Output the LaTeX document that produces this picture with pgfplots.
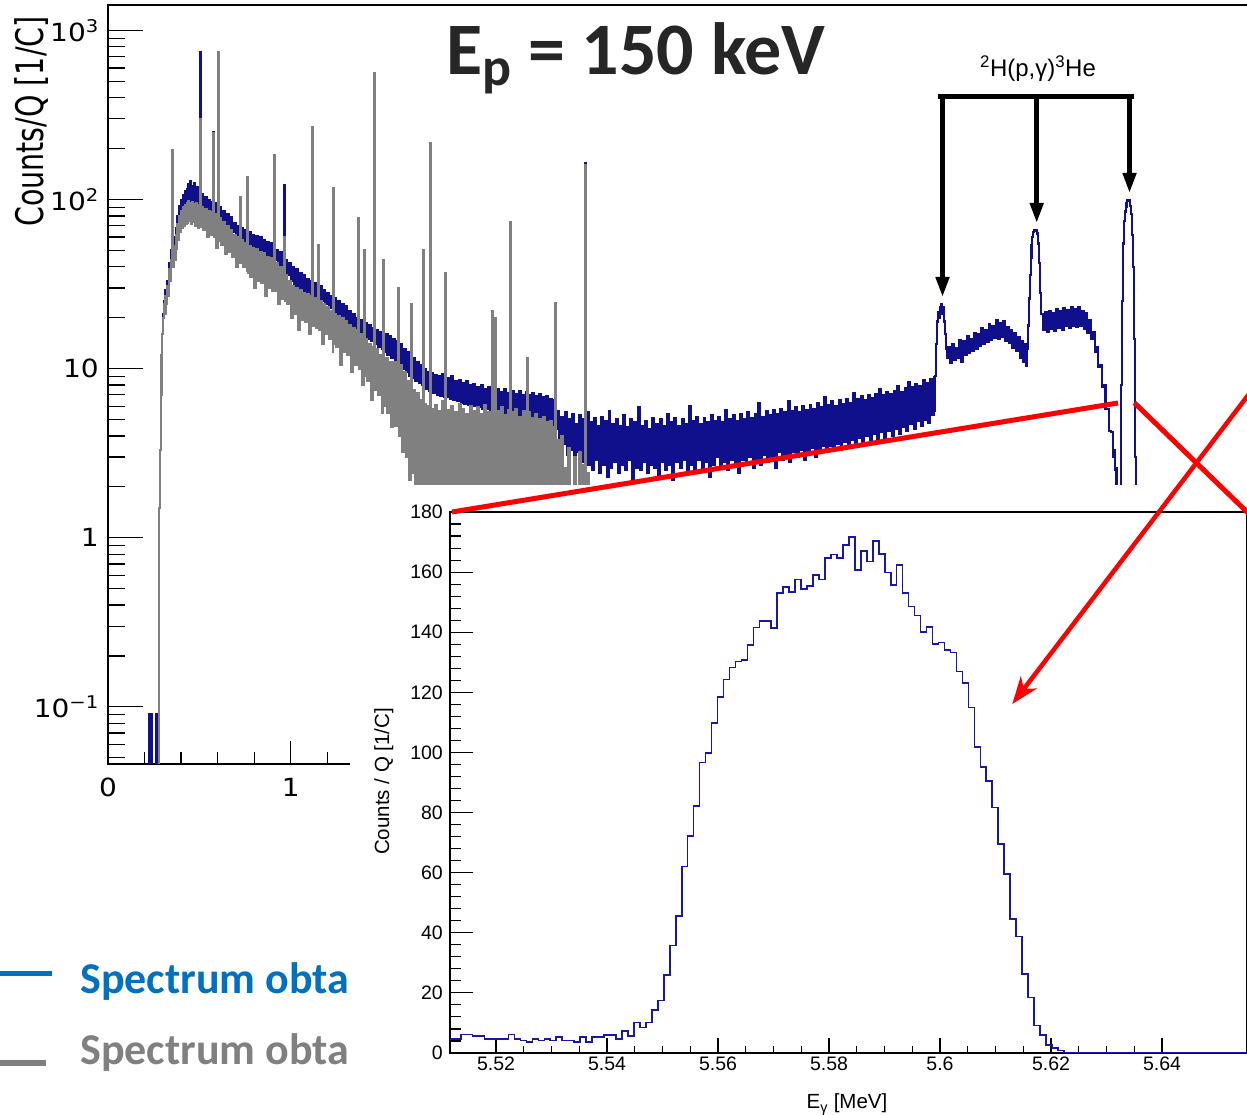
\documentclass[border=0pt]{standalone}
\usepackage{fontspec}
\setmainfont{Liberation Sans}
\newfontfamily\axfont[FakeStretch=1.12]{DejaVu Sans}
\newfontfamily\axlabfont[FakeStretch=0.75]{DejaVu Sans}
\newfontfamily\calibrifont{Carlito}
\usepackage{pgfplots}
\pgfplotsset{compat=1.18}
\usetikzlibrary{arrows.meta}

\definecolor{histblue}{RGB}{16,16,140}
\definecolor{histgray}{RGB}{128,128,128}
\definecolor{insetblue}{RGB}{24,24,165}
\definecolor{legblue}{RGB}{0,112,192}
\definecolor{leggray}{RGB}{128,128,128}
\definecolor{titlegray}{RGB}{38,38,38}

\begin{document}
\begin{tikzpicture}
\path[use as bounding box] (0pt,0pt) rectangle (1247pt,1115pt);
\clip (0pt,0pt) rectangle (1247pt,1115pt);

% ---------------- full spectrum, log scale ----------------
\begin{axis}[
  at={(108pt,351pt)}, anchor=south west,
  scale only axis, width=1187.55pt, height=759pt,
  xmin=0, xmax=6.5,
  ymode=log, ymin=0.0459, ymax=1415,
  axis line style={line width=1.2pt, black},
  tick align=inside, tick pos=left,
  every tick/.style={black, line width=1.2pt},
  xtick={0,1,2,3,4,5,6}, xticklabels={0,1,2,3,4,5,6},
  minor x tick num=4,
  ytick={0.1,1,10,100,1000},
  yticklabels={10\textsuperscript{−1},1,10,10\textsuperscript{2},10\textsuperscript{3}},
  minor ytick={0.05,0.06,0.07,0.08,0.09,0.2,0.3,0.4,0.5,0.6,0.7,0.8,0.9,2,3,4,5,6,7,8,9,20,30,40,50,60,70,80,90,200,300,400,500,600,700,800,900},
  xtick style={/pgfplots/major tick length=23pt, /pgfplots/minor tick length=12pt},
  ytick style={/pgfplots/major tick length=35pt, /pgfplots/minor tick length=17pt},
  xticklabel style={font=\axfont\fontsize{25}{25}\selectfont, anchor=north, inner sep=0pt, yshift=-14pt},
  yticklabel style={font=\axfont\fontsize{25}{25}\selectfont, anchor=east, inner sep=0pt, xshift=-9pt},
]
% beam on
\addplot[const plot, histblue, line width=2.1pt] coordinates {
(0.20,0.001)(0.224,0.09)(0.227,0.001)(0.238,0.09)(0.241,0.001)(0.262,0.09)(0.265,0.001)(0.272,0.09)(0.279,0.3)(0.281,1.5)(0.284,2.3)(0.287,3.3)(0.290,7)(0.293,12)(0.296,16)(0.300,21)(0.305,25)(0.310,23)(0.315,29)(0.320,27)(0.325,33)(0.330,31)(0.335,42)(0.340,38)(0.345,50)(0.350,196)(0.353,47)(0.360,60)(0.365,52)(0.370,68)(0.375,60)(0.380,80)(0.385,68)(0.390,92)(0.395,75)(0.400,100)(0.405,84)(0.410,106)(0.415,88)(0.420,112)(0.425,92)(0.430,116)(0.435,96)(0.440,124)(0.445,98)(0.450,128)(0.455,100)(0.460,121)(0.465,96)(0.470,126)(0.475,97)(0.480,115)(0.485,93)(0.490,118)(0.495,92)(0.500,111)(0.504,750)(0.508,95)
(0.51,108)(0.52,90)(0.53,104)(0.54,88)(0.55,100)(0.56,84)(0.57,97)(0.575,250)(0.579,82)(0.58,96)(0.59,80)(0.60,93)(0.602,750)(0.606,78)(0.61,90)(0.62,76)(0.63,86)(0.64,72)(0.65,82)(0.66,68)(0.67,79)(0.68,64)(0.69,73)(0.70,61)(0.71,70)(0.72,57)(0.722,103)(0.726,58)(0.73,68)(0.74,54)(0.75,66)(0.76,53)(0.761,136)(0.765,52)(0.77,64)(0.78,51)(0.79,62)(0.80,50)(0.81,61)(0.82,48)(0.83,60)(0.84,47)(0.85,58)(0.86,46)(0.87,56)(0.88,44)(0.89,55)(0.90,43)(0.909,184)(0.913,44)(0.92,50)(0.93,41)(0.94,49)(0.95,38)(0.96,47)(0.963,122)(0.967,37)(0.97,44)(0.98,36)(0.99,42)
(1.00,33)(1.01,40)(1.02,31)(1.03,39)(1.04,30)(1.05,37)(1.06,29)(1.07,36)(1.08,28)(1.09,34)(1.10,27)(1.11,33)(1.117,268)(1.121,27)(1.13,32)(1.14,26)(1.149,54)(1.153,25)(1.16,31)(1.17,25)(1.18,29)(1.19,24)(1.20,28)(1.21,23)(1.22,27)(1.23,22)(1.232,117)(1.236,22)(1.24,26)(1.25,21)(1.26,25)(1.27,20)(1.28,24)(1.29,19.5)(1.30,23.5)(1.31,18.5)(1.32,22)(1.33,18)(1.34,21)(1.35,17)(1.36,20)(1.368,78)(1.372,16.5)(1.38,19.5)(1.39,16)(1.40,19)(1.401,50)(1.405,15.5)(1.41,18.5)(1.42,15)(1.43,18)(1.44,14.5)(1.45,17.5)(1.456,561)(1.46,14)(1.47,17)(1.48,13.5)(1.49,16.5)
(1.50,13)(1.505,44)(1.509,12.5)(1.52,16)(1.53,12)(1.54,15.5)(1.55,11.5)(1.56,15)(1.57,11)(1.58,14.5)(1.587,30)(1.591,10.5)(1.60,14)(1.61,10)(1.62,13)(1.63,9.5)(1.64,12.5)(1.65,9)(1.658,24)(1.662,8.8)(1.67,11.5)(1.68,8.5)(1.69,11)(1.70,8.2)(1.71,10.5)(1.72,8)(1.724,50)(1.728,8)(1.73,10)(1.74,7.6)(1.75,9.6)(1.76,7.4)(1.762,216)(1.766,7.4)(1.77,9.4)(1.78,7.2)(1.79,9.2)(1.80,7)(1.81,9)(1.82,6.9)(1.83,9.3)(1.84,6.8)(1.845,37)(1.849,6.8)(1.86,8.8)(1.87,6.6)(1.88,9)(1.89,6.5)(1.90,8.5)(1.91,6.4)(1.92,8.6)(1.93,6.3)(1.94,8.2)(1.95,6.2)(1.96,8.4)(1.97,6.1)(1.98,8)(1.99,6)
(2.00,8.1)(2.01,6)(2.02,7.8)(2.03,5.9)(2.04,8)(2.05,5.8)(2.06,7.6)(2.07,5.8)(2.08,7.8)(2.09,5.7)(2.10,7.5)(2.102,22)(2.106,5.7)(2.118,20)(2.122,5.6)(2.13,7.6)(2.14,5.6)(2.15,7.3)(2.16,5.5)(2.17,7.6)(2.18,5.5)(2.19,7.2)(2.20,5.5)(2.203,74)(2.207,5.4)(2.21,7.4)(2.22,5.4)(2.23,7.1)(2.24,5.3)(2.25,7.4)(2.26,5.3)(2.27,7)(2.28,5.3)(2.29,7.3)(2.293,11.6)(2.297,5.2)(2.30,7)(2.31,5.2)(2.32,7.2)(2.33,5.1)(2.34,6.9)(2.35,5.1)(2.36,7.1)(2.37,5)(2.38,6.8)(2.39,5)(2.40,6.9)(2.41,4.8)(2.42,6.6)(2.43,4.6)(2.44,6.5)(2.447,24.5)(2.451,4.4)
(2.46,5.6)(2.47,3.4)(2.48,5.2)(2.49,3.6)(2.50,5.5)(2.51,3.1)(2.52,5.0)(2.53,3.3)(2.54,5.4)(2.55,2.9)(2.56,4.7)(2.57,3.2)(2.58,5.3)(2.59,2.8)(2.60,5.0)(2.61,2.6)(2.611,165)(2.615,2.9)(2.62,5.5)(2.63,2.7)(2.64,4.8)(2.65,2.5)(2.66,5.1)(2.67,2.9)(2.68,4.6)(2.69,2.4)(2.70,5.2)(2.71,2.7)(2.72,4.9)(2.73,2.3)(2.74,5.6)(2.75,2.6)(2.76,4.7)(2.77,2.8)(2.78,5.0)(2.79,2.4)(2.80,4.6)(2.81,2.7)(2.82,5.3)(2.83,2.5)(2.84,4.5)(2.85,2.9)(2.86,5.0)(2.87,2.2)(2.88,4.8)(2.89,2.6)(2.90,5.9)(2.91,2.5)(2.92,4.6)(2.93,2.8)(2.94,4.9)(2.95,2.4)(2.96,4.4)(2.97,2.7)(2.98,5.1)(2.99,2.6)
(3.00,4.7)(3.01,2.3)(3.02,5.0)(3.03,2.8)(3.04,4.6)(3.05,2.5)(3.06,5.4)(3.07,2.7)(3.08,4.8)(3.09,2.2)(3.10,5.1)(3.11,2.8)(3.12,4.6)(3.13,2.6)(3.14,5.0)(3.15,2.9)(3.16,4.7)(3.17,2.5)(3.18,6.0)(3.19,2.7)(3.20,4.9)(3.21,2.4)(3.22,5.2)(3.23,2.9)(3.24,4.7)(3.25,2.6)(3.26,5.1)(3.27,2.8)(3.28,4.8)(3.29,2.3)(3.30,5.3)(3.31,2.7)(3.32,4.9)(3.33,3.0)(3.34,5.2)(3.35,2.6)(3.36,4.8)(3.37,2.8)(3.38,5.7)(3.39,2.5)(3.40,5.0)(3.41,2.9)(3.42,5.3)(3.43,2.7)(3.44,4.9)(3.45,2.4)(3.46,5.4)(3.47,2.9)(3.48,5.0)(3.49,2.7)
(3.50,5.5)(3.51,3.0)(3.52,5.1)(3.53,2.6)(3.54,5.4)(3.55,2.9)(3.56,6.3)(3.57,2.7)(3.58,5.2)(3.59,3.1)(3.60,5.6)(3.61,2.8)(3.62,5.3)(3.63,3.0)(3.64,5.7)(3.65,2.6)(3.66,5.4)(3.67,3.2)(3.68,5.8)(3.69,2.9)(3.70,5.5)(3.71,3.1)(3.72,6.4)(3.73,2.8)(3.74,5.6)(3.75,3.2)(3.76,5.9)(3.77,3.0)(3.78,5.5)(3.79,3.3)(3.80,6.0)(3.81,2.9)(3.82,5.7)(3.83,3.2)(3.84,6.1)(3.85,3.4)(3.86,5.8)(3.87,3.0)(3.88,6.3)(3.89,3.3)(3.90,5.9)(3.91,3.5)(3.92,6.8)(3.93,3.2)(3.94,6.1)(3.95,3.5)(3.96,6.4)(3.97,3.3)(3.98,6.0)(3.99,3.6)
(4.00,6.5)(4.01,3.3)(4.02,6.2)(4.03,3.7)(4.04,6.6)(4.05,3.4)(4.06,6.3)(4.07,3.8)(4.08,7.2)(4.09,3.5)(4.10,6.6)(4.11,3.9)(4.12,6.9)(4.13,3.6)(4.14,6.5)(4.15,4.0)(4.16,7.0)(4.17,3.7)(4.18,6.7)(4.19,4.1)(4.20,7.1)(4.21,3.8)(4.22,7.6)(4.23,4.2)(4.24,7.0)(4.25,3.9)(4.26,7.3)(4.27,4.3)(4.28,7.1)(4.29,4.0)(4.30,7.4)(4.31,4.4)(4.32,7.9)(4.33,4.1)(4.34,7.3)(4.35,4.5)(4.36,7.7)(4.37,4.3)(4.38,8.3)(4.39,4.7)(4.40,7.8)(4.41,4.4)(4.42,8.1)(4.43,4.9)(4.44,7.9)(4.45,4.6)(4.46,8.6)(4.47,5.0)(4.48,8.2)(4.49,4.8)(4.50,8.7)(4.51,5.3)(4.52,8.9)(4.525,5.6)
(4.527,9)(4.532,14)(4.537,19)(4.542,21.5)(4.547,20)(4.552,23)(4.557,22)(4.562,24)(4.567,21)(4.572,23)(4.577,19)(4.582,16)(4.587,13)(4.592,11.5)
(4.60,13.5)(4.61,10.8)(4.62,14.0)(4.63,11.2)(4.64,13.2)(4.65,11.6)(4.66,14.8)(4.67,11.0)(4.68,14.5)(4.69,12.0)(4.70,15.5)(4.71,12.3)(4.72,15.0)(4.73,12.8)(4.74,16.2)(4.75,13.0)(4.76,16.0)(4.77,13.6)(4.78,17.5)(4.79,14.0)(4.80,17.0)(4.81,14.4)(4.82,18.3)(4.83,14.8)(4.84,17.8)(4.85,15.2)(4.86,19.5)(4.87,15.0)(4.88,18.6)(4.89,15.5)(4.90,19.0)(4.91,14.6)(4.92,17.6)(4.93,14.2)(4.94,17.0)(4.95,13.2)(4.96,16.2)(4.97,12.8)(4.98,15.3)(4.99,11.5)(5.00,14.6)(5.01,11.0)(5.02,14.0)(5.025,10.4)
(5.03,13)(5.035,18)(5.04,26)(5.045,36)(5.05,45)(5.055,54)(5.06,60)(5.065,64)(5.07,66)(5.075,65)(5.08,66)(5.085,63)(5.09,55)(5.095,42)(5.10,28)(5.105,21)
(5.11,21)(5.12,17)(5.13,21.5)(5.14,16.4)(5.15,22)(5.16,17.2)(5.17,21.2)(5.18,16.8)(5.19,22.5)(5.20,17.5)(5.21,21.8)(5.22,17.0)(5.23,22.8)(5.24,17.8)(5.25,22.2)(5.26,17.4)(5.27,23.2)(5.28,18.0)(5.29,22.6)(5.30,17.6)(5.31,23.0)(5.32,17.9)(5.33,22.0)(5.34,17.2)(5.35,21.2)(5.36,16.2)(5.37,19.5)(5.38,15.0)(5.39,16.5)(5.40,12.5)(5.41,13.5)(5.42,10.2)(5.43,10.5)(5.44,7.8)(5.45,8.0)(5.46,5.8)(5.47,5.8)(5.48,4.3)(5.49,4.2)(5.50,3.0)(5.505,3.3)(5.51,2.5)(5.515,2.6)(5.52,1.9)(5.525,1.8)(5.53,1.3)(5.535,1.2)(5.54,1.5)
(5.545,8)(5.55,25)(5.555,55)(5.56,75)(5.565,85)(5.57,90)(5.575,95)(5.58,100)(5.585,98)(5.59,100)(5.595,92)(5.60,82)(5.605,62)(5.61,40)(5.615,15)(5.62,3)(5.625,0.4)(5.63,0.001)(5.70,0.001)
};
% beam off
\addplot[const plot, histgray, line width=2.1pt] coordinates {
(0.27,0.001)(0.279,0.3)(0.281,1.5)(0.284,2.3)(0.287,3.3)(0.290,7)(0.293,12)(0.296,16)(0.300,20)(0.305,24)(0.310,21)(0.315,27)(0.320,24)(0.325,31)(0.330,27)(0.335,39)(0.340,33)(0.345,44)(0.350,196)(0.353,40)(0.360,53)(0.365,44)(0.370,62)(0.375,51)(0.380,72)(0.385,58)(0.390,80)(0.395,64)(0.400,86)(0.405,68)(0.410,90)(0.415,70)(0.420,93)(0.425,72)(0.430,96)(0.435,73)(0.440,98)(0.445,75)(0.450,96)(0.455,72)(0.460,97)(0.465,74)(0.470,94)(0.475,70)(0.480,95)(0.485,72)(0.490,92)(0.495,68)(0.500,93)(0.504,300)(0.508,69)
(0.51,90)(0.52,66)(0.53,88)(0.54,60)(0.55,86)(0.56,62)(0.57,84)(0.575,248)(0.579,60)(0.58,82)(0.59,52)(0.60,80)(0.602,746)(0.606,57)(0.61,78)(0.62,54)(0.63,74)(0.64,48)(0.65,70)(0.66,49)(0.67,66)(0.68,46)(0.69,62)(0.70,40)(0.71,60)(0.72,42)(0.722,103)(0.726,42)(0.73,58)(0.74,40)(0.75,55)(0.76,38)(0.761,136)(0.765,37)(0.77,53)(0.78,35)(0.79,52)(0.80,30)(0.81,51)(0.82,33)(0.83,49)(0.84,32)(0.85,48)(0.86,27)(0.87,46)(0.88,30)(0.89,45)(0.90,29)(0.909,184)(0.913,29)(0.92,42)(0.93,24)(0.94,40)(0.95,26)(0.96,38)(0.963,60)(0.967,25)(0.97,36)(0.98,24)(0.99,33)
(1.00,20)(1.01,31)(1.02,21)(1.03,30)(1.04,17)(1.05,29)(1.06,19.5)(1.07,28)(1.08,19)(1.09,27.5)(1.10,16)(1.11,27)(1.117,268)(1.121,18)(1.13,26)(1.14,17.5)(1.149,54)(1.153,17)(1.16,25)(1.17,14)(1.18,24)(1.19,16)(1.20,23)(1.21,15)(1.22,22)(1.23,12.5)(1.232,117)(1.236,14)(1.24,21)(1.25,13.5)(1.26,20.5)(1.27,10.5)(1.28,20)(1.29,12.5)(1.30,19)(1.31,12)(1.32,18)(1.33,9.5)(1.34,17.5)(1.35,10.5)(1.36,17)(1.368,78)(1.372,10)(1.38,16)(1.39,8)(1.40,15.5)(1.401,50)(1.405,9)(1.41,15)(1.42,8.5)(1.43,14)(1.44,6.5)(1.45,13.5)(1.456,561)(1.46,7.5)(1.47,13)(1.48,7)(1.49,12)
(1.50,5.5)(1.505,44)(1.509,6)(1.52,11.5)(1.53,5.5)(1.54,11)(1.55,4.5)(1.56,11)(1.57,4.6)(1.58,11)(1.587,30)(1.591,4)(1.60,10.5)(1.61,3.2)(1.62,9.5)(1.63,3)(1.64,8.5)(1.65,2.2)(1.658,24)(1.662,2.4)(1.67,7.5)(1.68,1.8)(1.69,7.2)(1.70,1.6)(1.71,6.5)(1.72,1.5)(1.724,50)(1.728,1.5)(1.73,6.2)(1.74,1.4)(1.75,6)(1.76,1.5)(1.762,216)(1.766,1.4)(1.77,5.8)(1.78,1.3)(1.79,6.1)(1.80,1.6)(1.81,5.6)(1.82,1.2)(1.83,6.4)(1.84,1.5)(1.845,37)(1.849,1.3)(1.86,5.7)(1.87,1.4)(1.88,6.0)(1.89,1.2)(1.90,5.5)(1.91,1.6)(1.92,6.2)(1.93,1.3)(1.94,5.8)(1.95,1.5)(1.96,5.4)(1.97,1.2)(1.98,6.0)(1.99,1.4)
(2.00,5.6)(2.01,1.3)(2.02,5.9)(2.03,1.5)(2.04,5.4)(2.05,1.2)(2.06,6.1)(2.07,1.4)(2.08,5.5)(2.09,1.3)(2.10,5.8)(2.102,22)(2.106,1.5)(2.118,20)(2.122,1.3)(2.13,5.6)(2.14,1.4)(2.15,5.9)(2.16,1.2)(2.17,5.3)(2.18,1.5)(2.19,5.7)(2.20,1.3)(2.203,74)(2.207,1.4)(2.21,5.5)(2.22,1.2)(2.23,5.8)(2.24,1.5)(2.25,5.2)(2.26,1.3)(2.27,5.6)(2.28,1.4)(2.29,5.3)(2.293,11.6)(2.297,1.3)(2.30,5.5)(2.31,1.2)(2.32,5.1)(2.33,1.5)(2.34,5.4)(2.35,1.3)(2.36,5.0)(2.37,1.4)(2.38,5.2)(2.39,1.2)(2.40,4.8)(2.41,1.5)(2.42,4.9)(2.43,1.3)(2.44,4.5)(2.447,24.5)(2.451,1.2)
(2.46,3.8)(2.47,1.2)(2.48,4.0)(2.49,1.1)(2.50,2.6)(2.51,1.0)(2.52,3.4)(2.53,1.0)(2.55,3.0)(2.56,1.0)(2.58,3.2)(2.59,1.0)(2.60,2.7)(2.605,1.0)(2.611,160)(2.615,1.0)(2.62,2.4)(2.63,0.001)(2.70,0.001)
};
\end{axis}

% legend, its right part hidden behind the zoom panel
\begin{scope}[x=1pt,y=1pt]
\begin{scope}
\clip (-5,0) rectangle (350,200);
\draw[legblue, line width=5pt] (-2,141) -- (52,141);
\draw[leggray, line width=6pt] (-2,52) -- (46,52);
\node[anchor=base west, inner sep=0pt, text=legblue, font=\calibrifont\bfseries\fontsize{44}{44}\selectfont] at (80,121) {Spectrum obta};
\node[anchor=base west, inner sep=0pt, text=leggray, font=\calibrifont\bfseries\fontsize{44}{44}\selectfont] at (80,50) {Spectrum obta};
\end{scope}
\fill[white] (350,-5) rectangle (1260,630);
\end{scope}

% ---------------- zoom on the full-energy peak ----------------
\begin{axis}[
  at={(450pt,62pt)}, anchor=south west,
  scale only axis, width=797pt, height=541pt,
  xmin=5.511712, xmax=5.655315, ymin=0, ymax=180,
  axis line style={line width=1.2pt, black},
  tick align=inside, tick pos=left,
  every tick/.style={black, line width=1.1pt},
  xtick={5.52,5.54,5.56,5.58,5.6,5.62,5.64},
  xticklabels={5.52,5.54,5.56,5.58,5.6,5.62,5.64},
  minor x tick num=3,
  ytick={0,20,40,60,80,100,120,140,160,180},
  yticklabels={0,20,40,60,80,100,120,140,160,180},
  minor y tick num=4,
  xtick style={/pgfplots/major tick length=15pt, /pgfplots/minor tick length=7pt},
  ytick style={/pgfplots/major tick length=23pt, /pgfplots/minor tick length=11pt},
  xticklabel style={font=\fontsize{19.5}{19.5}\selectfont, anchor=north, inner sep=0pt, yshift=-4pt},
  yticklabel style={font=\fontsize{19.5}{19.5}\selectfont, anchor=east, inner sep=0pt, xshift=-7pt},
]
\addplot[const plot, insetblue, line width=1.6pt] coordinates {
(5.51149,4.7)(5.51257,4.7)(5.51364,6.1)(5.51472,6.1)(5.51580,5.7)(5.51687,5.7)(5.51795,4.6)(5.51902,4.6)(5.52010,4.7)(5.52118,4.7)
(5.52225,6.2)(5.52333,4.6)(5.52440,4.2)(5.52548,3.7)(5.52656,4.7)(5.52763,4.2)(5.52871,4.7)(5.52978,4.2)(5.53086,5.3)(5.53194,4.2)
(5.53301,4.2)(5.53409,3.6)(5.53516,5.4)(5.53624,3.7)(5.53732,5.4)(5.53839,5.4)(5.53947,5.9)(5.54054,5.9)(5.54162,4.6)(5.54270,7.4)
(5.54377,5.7)(5.54485,10.1)(5.54592,8.5)(5.54700,10.1)(5.54808,14.3)(5.54915,17.4)(5.55023,26.0)(5.55130,35.8)(5.55238,45.6)(5.55346,62.0)
(5.55453,72.2)(5.55561,82.2)(5.55668,96.6)(5.55776,99.9)(5.55884,109.7)(5.55991,118.5)(5.56099,124.3)(5.56206,128.2)(5.56314,130.2)(5.56422,130.7)
(5.56529,135.8)(5.56637,141.6)(5.56744,143.8)(5.56852,143.8)(5.56960,141.4)(5.57067,153.1)(5.57175,155.1)(5.57282,153.4)(5.57390,157.6)(5.57498,154.3)
(5.57605,155.4)(5.57713,159.0)(5.57820,157.6)(5.57928,164.6)(5.58036,165.9)(5.58143,164.6)(5.58251,169.0)(5.58358,171.6)(5.58466,160.7)(5.58574,167.1)
(5.58681,163.5)(5.58789,170.4)(5.58896,166.0)(5.59004,159.9)(5.59112,155.7)(5.59219,162.3)(5.59327,153.1)(5.59434,148.5)(5.59542,145.5)(5.59650,140.0)
(5.59757,141.8)(5.59865,136.0)(5.59972,136.6)(5.60080,134.0)(5.60188,133.3)(5.60295,126.9)(5.60403,123.2)(5.60510,115.0)(5.60618,101.9)(5.60726,95.2)
(5.60833,90.5)(5.60941,81.7)(5.61048,69.6)(5.61156,59.5)(5.61264,44.5)(5.61371,38.7)(5.61479,26.3)(5.61586,18.4)(5.61694,9.1)(5.61802,6.0)
(5.61909,2.7)(5.62017,1.6)(5.62124,0.8)(5.62232,0)(5.66,0)
};
\end{axis}

\begin{scope}[x=1pt,y=1pt]
% axis titles of the zoom panel
\node[anchor=base, inner sep=0pt, font=\fontsize{20.5}{20.5}\selectfont] at (847,6) {E\textsubscript{γ} [MeV]};
\node[rotate=90, anchor=base, inner sep=0pt, font=\fontsize{20.5}{20.5}\selectfont] at (389,333.5) {Counts / Q [1/C]};

% axis title of the full spectrum
\node[rotate=90, anchor=base, inner sep=0pt, font=\axlabfont\fontsize{38}{38}\selectfont] at (43,993.5) {Counts/Q [1/C]};

% red guide lines and arrow
\draw[red, line width=5pt] (1118,712) -- (452,603);
\draw[red, line width=5pt] (1134.3,712.3) -- (1262,588.5);
\draw[red, line width=4.5pt, -{Stealth[length=27pt, width=20pt, inset=8pt]}] (1262,738) -- (1012.3,411);

% peak markers
\draw[line width=5pt, line cap=rect] (940.5,1018) -- (1131.5,1018);
\draw[line width=4.5pt, -{Triangle[length=20pt, width=13pt]}] (942.5,1018) -- (942.5,818);
\draw[line width=4.5pt, -{Triangle[length=20pt, width=13pt]}] (1036.7,1018) -- (1036.7,892);
\draw[line width=4.5pt, -{Triangle[length=20pt, width=13pt]}] (1129.5,1018) -- (1129.5,922);
\node[anchor=base, inner sep=0pt, font=\fontsize{24}{24}\selectfont] at (1038,1038) {\textsuperscript{2}H(p,γ)\textsuperscript{3}He};

% beam energy
\node[anchor=base, inner sep=0pt, text=titlegray, font=\calibrifont\bfseries\fontsize{74}{74}\selectfont] at (636,1040) {E\raisebox{-11pt}{\fontsize{54}{54}\selectfont p} = 150 keV};
\end{scope}
\end{tikzpicture}
\end{document}
